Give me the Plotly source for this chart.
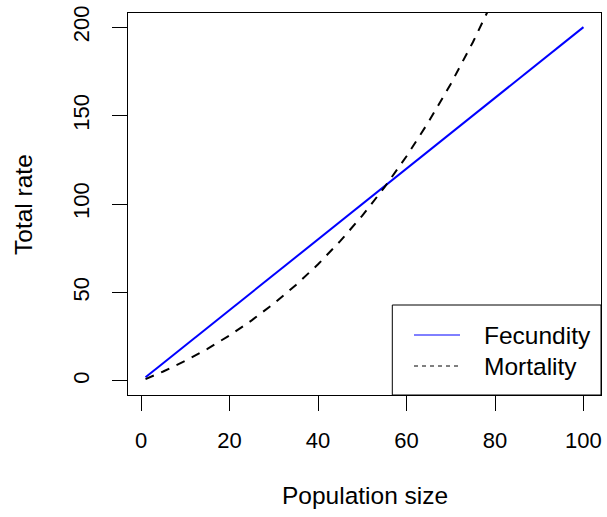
import plotly.graph_objects as go

# Data
pop_fec = [1, 100]
fecundity = [2, 200]

pop_mort = [1, 5, 10, 15, 20, 25, 30, 35, 40, 45, 50, 55, 60, 65, 70, 75, 80]
mortality = [1.0, 5.3, 11.3, 18.1, 25.7, 34.2, 43.7, 54.2, 65.9, 79.0, 93.4,
             109.4, 127.0, 146.5, 167.9, 191.5, 217.5]

x_ticks = [0, 20, 40, 60, 80, 100]
y_ticks = [0, 50, 100, 150, 200]

FONT = "Liberation Sans, Arial, Helvetica, sans-serif"
FS_TICK = 22
FS_TEXT = 24.5

fig = go.Figure()
fig.add_trace(go.Scatter(x=pop_fec, y=fecundity, mode="lines", name="Fecundity",
                         line=dict(color="#0000ff", width=2), showlegend=False))
fig.add_trace(go.Scatter(x=pop_mort, y=mortality, mode="lines", name="Mortality",
                         line=dict(color="black", width=2, dash="9px,8px"), showlegend=False))

L, R, T, B = 128, 6, 13, 122
W, H = 607, 517
pw, ph = W - L - R, H - T - B

def px_x(p):
    return (p - L) / pw

def px_y(p):
    return (H - B - p) / ph

fig.update_layout(
    width=W, height=H,
    margin=dict(l=L, r=R, t=T, b=B),
    paper_bgcolor="white", plot_bgcolor="white",
    font=dict(family=FONT, size=FS_TICK, color="black"),
    xaxis=dict(range=[-2.96, 103.96], tickvals=x_ticks, ticks="outside", ticklen=15,
               tickwidth=1, tickcolor="black", showline=True, linecolor="black",
               linewidth=1, mirror=True, showgrid=False, zeroline=False,
               ticklabelstandoff=11, tickfont=dict(size=FS_TICK)),
    yaxis=dict(range=[-8, 208], tickvals=y_ticks, ticks="outside", ticklen=15,
               tickwidth=1, tickcolor="black", showline=True, linecolor="black",
               linewidth=1, mirror=True, showgrid=False, zeroline=False,
               tickangle=-90, ticklabelstandoff=14, tickfont=dict(size=FS_TICK)),
)

# Axis titles
fig.add_annotation(text="Population size", xref="paper", yref="paper",
                   x=px_x(365), y=px_y(495),
                   xanchor="center", yanchor="middle", showarrow=False,
                   font=dict(size=FS_TEXT))
fig.add_annotation(text="Total rate", xref="paper", yref="paper",
                   x=px_x(23), y=px_y(205), textangle=-90,
                   xanchor="center", yanchor="middle", showarrow=False,
                   font=dict(size=FS_TEXT))

# Legend (drawn in R style)
fig.add_shape(type="rect", xref="paper", yref="paper",
              x0=px_x(392.3), x1=1, y0=0, y1=px_y(305),
              line=dict(color="black", width=1), fillcolor="white", layer="above")
fig.add_shape(type="line", xref="paper", yref="paper",
              x0=px_x(414), x1=px_x(460), y0=px_y(335), y1=px_y(335),
              line=dict(color="#0000ff", width=1), layer="above")
fig.add_shape(type="line", xref="paper", yref="paper",
              x0=px_x(414), x1=px_x(460), y0=px_y(366), y1=px_y(366),
              line=dict(color="black", width=1, dash="4px,4px"), layer="above")
for name, py in (("Fecundity", 335), ("Mortality", 366)):
    fig.add_annotation(text=name, xref="paper", yref="paper",
                       x=px_x(482), y=px_y(py), xanchor="left", yanchor="middle",
                       showarrow=False, font=dict(size=FS_TEXT))

fig.write_html("out.html", config={"displayModeBar": False},
               post_script="document.body.style.margin='0';document.body.style.overflow='hidden';")
